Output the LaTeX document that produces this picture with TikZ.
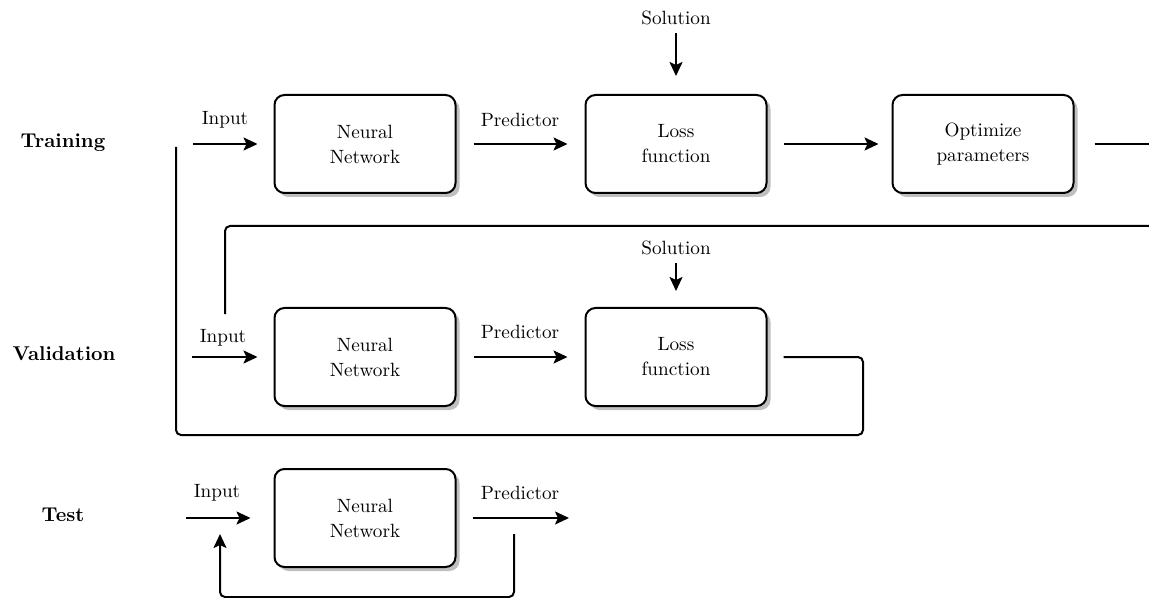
\documentclass[tikz,border=0pt]{standalone}
\usetikzlibrary{arrows.meta,shadows}

\tikzset{
  blk/.style={draw, line width=1pt, rounded corners=5pt, fill=white,
    minimum width=90.5pt, minimum height=49pt, align=center,
    font=\fontsize{9.6}{12.5}\selectfont,
    drop shadow={shadow xshift=2pt, shadow yshift=-2pt, fill=black!25, opacity=1}},
  txt/.style={inner sep=1pt, font=\fontsize{9.6}{12}\selectfont},
  phase/.style={inner sep=1pt, font=\bfseries\fontsize{10}{12}\selectfont},
  wire/.style={line width=1pt, rounded corners=2.5pt},
  flow/.style={wire, -{Stealth[length=7pt, width=6.5pt, inset=1.5pt]}}
}

\begin{document}
\begin{tikzpicture}[x=0.5pt, y=-0.5pt]
  \useasboundingbox (0,0) rectangle (1149,598);

  % phase labels
  \node[phase] (lTrain) at (63,143) {Training};
  \node[phase] (lVal)   at (64,354) {Validation};
  \node[phase] (lTest)  at (63,515) {Test};

  % ---------------- training ----------------
  \node[blk] (nn1)   at (365,144) {Neural\\Network};
  \node[blk] (loss1) at (676,144) {Loss\\function};
  \node[blk] (opt)   at (983,144) {Optimize\\parameters};

  \coordinate (in1)  at (193,144);
  \coordinate (out1) at (1149,144);
  \node[txt] (tIn1)   at (225,120) {Input};
  \node[txt] (tPred1) at (520,120) {Predictor};
  \node[txt] (sol1)   at (676,18)  {Solution};

  \draw[flow, shorten >=8pt] (in1) -- (nn1.west);
  \draw[flow, shorten <=8.5pt, shorten >=8.5pt] (nn1.east) -- (loss1.west);
  \draw[flow, shorten <=8pt, shorten >=6.5pt] (loss1.east) -- (opt.west);
  \draw[flow, shorten <=3pt, shorten >=9pt] (sol1.south) -- (loss1.north);
  \draw[wire, shorten <=10pt] (opt.east) -- (out1);

  % feedback from the optimizer into validation
  \coordinate (fbR)  at (1149,226);
  \coordinate (fbIn) at (225,314);
  \draw[wire] (fbR) -| (fbIn);

  % ---------------- validation ----------------
  \node[blk] (nn2)   at (365,357) {Neural\\Network};
  \node[blk] (loss2) at (676,357) {Loss\\function};

  \coordinate (in2) at (192,357);
  \node[txt] (tIn2)   at (223,338) {Input};
  \node[txt] (tPred2) at (520,332) {Predictor};
  \node[txt] (sol2)   at (676,248) {Solution};

  \draw[flow, shorten >=8pt] (in2) -- (nn2.west);
  \draw[flow, shorten <=8.5pt, shorten >=8.5pt] (nn2.east) -- (loss2.west);
  \draw[flow, shorten <=3pt, shorten >=8pt] (sol2.south) -- (loss2.north);

  % return path from the validation loss back to training
  \coordinate (vR)  at (863,357);
  \coordinate (vB)  at (863,435);
  \coordinate (ret) at (176,147);
  \draw[wire, shorten <=8pt] (loss2.east) -- (vR) -- (vB) -| (ret);

  % ---------------- test ----------------
  \node[blk] (nn3) at (365,518) {Neural\\Network};

  \coordinate (in3) at (186,518);
  \node[txt] (tIn3)   at (217,493) {Input};
  \node[txt] (tPred3) at (520,493) {Predictor};
  \coordinate (pr3) at (569,518);

  \draw[flow, shorten >=11.5pt] (in3) -- (nn3.west);
  \draw[flow, shorten <=8pt] (nn3.east) -- (pr3);

  \coordinate (tA) at (514,534);
  \coordinate (tB) at (514,597);
  \coordinate (tC) at (220,534);
  \draw[flow] (tA) -- (tB) -| (tC);
\end{tikzpicture}
\end{document}
